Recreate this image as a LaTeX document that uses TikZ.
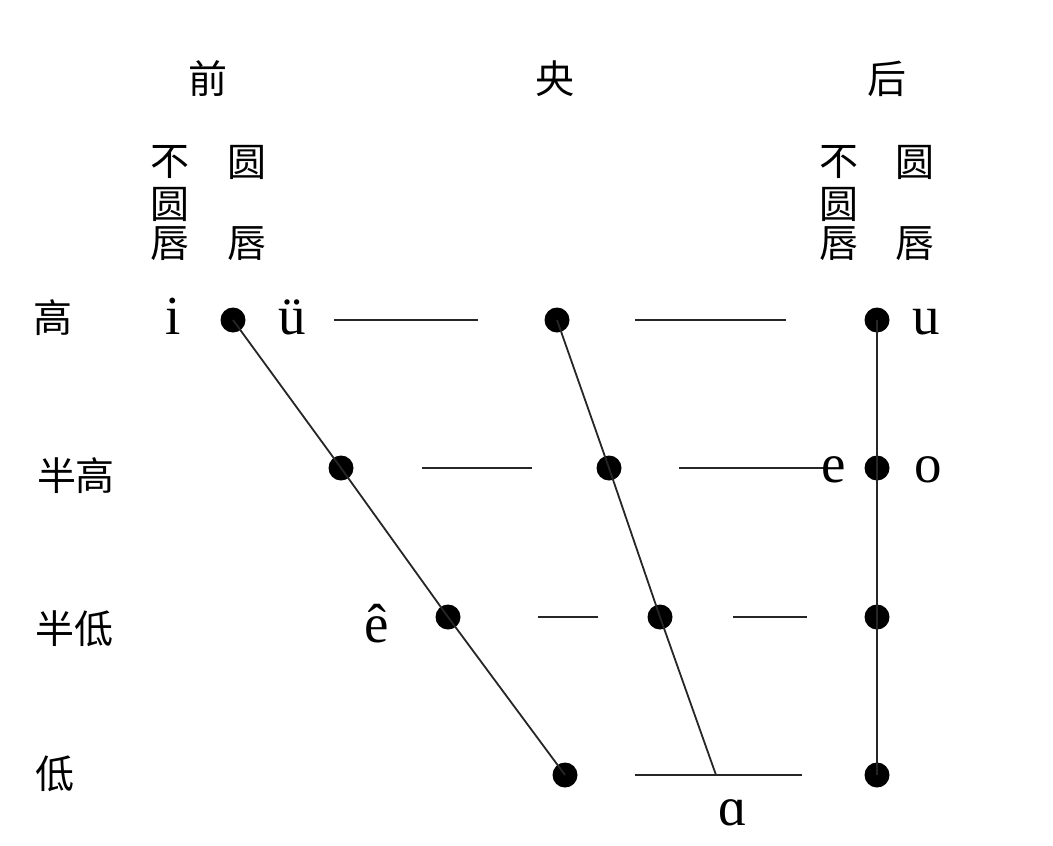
\documentclass[tikz,border=0pt]{standalone}
\usepackage{fontspec}
\setmainfont{Liberation Serif}
\newfontfamily\cjk{Noto Sans CJK SC}
\begin{document}
\begin{tikzpicture}[x=1pt,y=-1pt,
  dot/.style={circle,fill=black,inner sep=0pt,minimum size=25pt},
  hz/.style={font=\cjk\fontsize{39}{44}\selectfont,inner sep=0pt},
  ph/.style={font=\fontsize{55}{60}\selectfont,inner sep=0pt,anchor=base},
  ln/.style={line width=1.8pt,draw=black!85}]
\useasboundingbox[fill=white] (0,0) rectangle (1053,846);
% column headers
\node[hz] (qian) at (208,79) {前};
\node[hz] (yang) at (555,79) {央};
\node[hz] (hou) at (887,79) {后};
\node[hz] (lbu) at (170,162) {不};
\node[hz] (lyuan) at (170,204) {圆};
\node[hz] (lchun) at (170,244) {唇};
\node[hz] (lyuan2) at (247,162) {圆};
\node[hz] (lchun2) at (247,244) {唇};
\node[hz] (rbu) at (839,162) {不};
\node[hz] (ryuan) at (839,204) {圆};
\node[hz] (rchun) at (839,244) {唇};
\node[hz] (ryuan2) at (915,162) {圆};
\node[hz] (rchun2) at (915,244) {唇};
% row labels
\node[hz] (gao) at (53,318) {高};
\node[hz] (bangao) at (76,476) {半高};
\node[hz] (bandi) at (74,629) {半低};
\node[hz] (di) at (55,774) {低};
% dots
\node[dot] (f1) at (233,320) {};
\node[dot] (c1) at (557,320) {};
\node[dot] (b1) at (877,320) {};
\node[dot] (f2) at (341,468) {};
\node[dot] (c2) at (609,468) {};
\node[dot] (b2) at (877,468) {};
\node[dot] (f3) at (448,617) {};
\node[dot] (c3) at (660,617) {};
\node[dot] (b3) at (877,617) {};
\node[dot] (f4) at (565,775) {};
\node[dot] (b4) at (877,775) {};
\coordinate (c4) at (716,775);
% slanted / vertical lines
\draw[ln] (f1.center) -- (f2.center) -- (f3.center) -- (f4.center);
\draw[ln] (c1.center) -- (c2.center) -- (c3.center) -- (c4);
\draw[ln] (b1.center) -- (b2.center) -- (b3.center) -- (b4.center);
% horizontal dashes
\coordinate (h1a) at (334,320); \coordinate (h1b) at (478,320);
\coordinate (h1c) at (635,320); \coordinate (h1d) at (786,320);
\coordinate (h2a) at (422,468); \coordinate (h2b) at (532,468);
\coordinate (h2c) at (679,468); \coordinate (h2d) at (826,468);
\coordinate (h3a) at (538,617); \coordinate (h3b) at (598,617);
\coordinate (h3c) at (733,617); \coordinate (h3d) at (807,617);
\coordinate (h4a) at (635,775); \coordinate (h4b) at (802,775);
\draw[ln] (h1a) -- (h1b); \draw[ln] (h1c) -- (h1d);
\draw[ln] (h2a) -- (h2b); \draw[ln] (h2c) -- (h2d);
\draw[ln] (h3a) -- (h3b); \draw[ln] (h3c) -- (h3d);
\draw[ln] (h4a) -- (h4b);
% vowel letters
\node[ph] (vi) at (173,334) {i};
\node[ph] (vy) at (292,334) {ü};
\node[ph] (vu) at (926,334) {u};
\node[ph] (ve) at (834,482) {e};
\node[ph] (vo) at (928,482) {o};
\node[ph] (vee) at (377,642) {ê};
\node[ph] (va) at (733,825) {ɑ};
\end{tikzpicture}
\end{document}
